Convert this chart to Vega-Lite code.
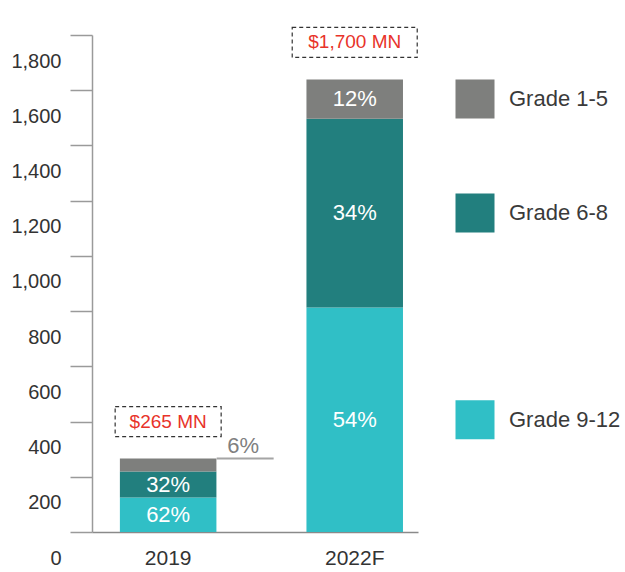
{
  "$schema": "https://vega.github.io/schema/vega-lite/v6.json",
  "padding": {"left": 10, "top": 25, "right": 0, "bottom": 5},
  "background": "white",
  "config": {"view": {"stroke": null}, "font": "Liberation Sans"},
  "datasets": {
    "segments": [
      {"year": "2019", "grade": "Grade 9-12", "value": 125, "share": "62%"},
      {"year": "2019", "grade": "Grade 6-8", "value": 94, "share": "32%"},
      {"year": "2019", "grade": "Grade 1-5", "value": 47, "share": "6%"},
      {"year": "2022F", "grade": "Grade 9-12", "value": 813, "share": "54%"},
      {"year": "2022F", "grade": "Grade 6-8", "value": 684, "share": "34%"},
      {"year": "2022F", "grade": "Grade 1-5", "value": 142, "share": "12%"}
    ],
    "totals": [
      {"year": "2019", "label": "$265 MN"},
      {"year": "2022F", "label": "$1,700 MN"}
    ]
  },
  "spacing": 0,
  "hconcat": [
    {
      "width": 326,
      "height": 497,
      "data": {"name": "segments"},
      "transform": [
        {"stack": "value", "groupby": ["year"], "sort": [{"field": "grade", "order": "descending"}], "as": ["v0", "v1"]},
        {"calculate": "(datum.v0 + datum.v1) / 2", "as": "mid"}
      ],
      "encoding": {
        "x": {
          "field": "year", "type": "nominal", "title": null,
          "scale": {"domain": ["2019", "2022F"], "paddingInner": 0.4826, "paddingOuter": 0.115, "align": 0.65},
          "axis": {"domainColor": "#8a8a8a", "domainWidth": 1.5, "ticks": false, "labelFontSize": 21, "labelColor": "#333333", "labelPadding": 15, "labelAngle": 0}
        }
      },
      "layer": [
        {
          "mark": {"type": "bar"},
          "encoding": {
            "y": {
              "field": "v0", "type": "quantitative", "title": null,
              "scale": {"domain": [0, 1800], "nice": false},
              "axis": {"values": [0, 200, 400, 600, 800, 1000, 1200, 1400, 1600, 1800], "format": ",d", "labelFontSize": 20, "labelColor": "#333333", "labelPadding": 9, "tickSize": 22, "tickColor": "#9a9a9a", "tickWidth": 1.5, "domainColor": "#9a9a9a", "domainWidth": 1.5, "grid": false, "labelOffset": 26, "labelFlush": false, "labelOverlap": false, "labelBound": false}
            },
            "y2": {"field": "v1"},
            "color": {
              "field": "grade", "type": "nominal", "legend": null,
              "scale": {"domain": ["Grade 1-5", "Grade 6-8", "Grade 9-12"], "range": ["#7e7f7d", "#227f7e", "#30bfc6"]}
            }
          }
        },
        {
          "transform": [{"filter": "!(datum.year == '2019' && datum.grade == 'Grade 1-5')"}],
          "mark": {"type": "text", "color": "white", "fontSize": 22, "baseline": "middle"},
          "encoding": {
            "y": {"field": "mid", "type": "quantitative"},
            "text": {"field": "share"}
          }
        },
        {
          "transform": [{"filter": "datum.year == '2019' && datum.grade == 'Grade 1-5'"}],
          "mark": {"type": "tick", "orient": "horizontal", "size": 57, "thickness": 2, "xOffset": 77, "color": "#7f7f7f"},
          "encoding": {
            "y": {"field": "v1", "type": "quantitative"}
          }
        },
        {
          "transform": [{"filter": "datum.year == '2019' && datum.grade == 'Grade 1-5'"}],
          "mark": {"type": "text", "dx": 75, "dy": -13, "fontSize": 22, "color": "#808080", "baseline": "middle"},
          "encoding": {
            "y": {"field": "v1", "type": "quantitative"},
            "text": {"field": "share"}
          }
        },
        {
          "transform": [
            {"filter": "datum.grade == 'Grade 1-5'"},
            {"lookup": "year", "from": {"data": {"name": "totals"}, "key": "year", "fields": ["label"]}}
          ],
          "mark": {"type": "text", "dy": -37, "fontSize": 19, "color": "#e8332a", "baseline": "middle"},
          "encoding": {
            "y": {"field": "v1", "type": "quantitative"},
            "text": {"field": "label"}
          }
        },
        {
          "transform": [{"filter": "datum.grade == 'Grade 1-5'"}],
          "mark": {"type": "point", "filled": false, "size": 4, "stroke": "#333333", "strokeWidth": 1.2, "strokeDash": [4, 3], "opacity": 1},
          "encoding": {
            "y": {"field": "v1", "type": "quantitative"},
            "shape": {
              "field": "year", "type": "nominal", "legend": null,
              "scale": {"domain": ["2019", "2022F"], "range": ["M-53,-52H53V-22H-53Z", "M-62.5,-52H62.5V-22H-62.5Z"]}
            }
          }
        }
      ]
    },
    {
      "width": 110,
      "height": 497,
      "data": {"name": "segments"},
      "transform": [
        {"stack": "value", "groupby": ["year"], "sort": [{"field": "grade", "order": "descending"}], "as": ["v0", "v1"]},
        {"calculate": "(datum.v0 + datum.v1) / 2", "as": "mid"},
        {"filter": "datum.year == '2022F'"}
      ],
      "encoding": {
        "y": {"field": "mid", "type": "quantitative", "axis": null, "scale": {"domain": [0, 1800], "nice": false}}
      },
      "layer": [
        {
          "mark": {"type": "point", "shape": "square", "filled": true, "size": 1521, "opacity": 1, "strokeWidth": 0},
          "encoding": {
            "color": {
              "field": "grade", "type": "nominal", "legend": null,
              "scale": {"domain": ["Grade 1-5", "Grade 6-8", "Grade 9-12"], "range": ["#7e7f7d", "#227f7e", "#30bfc6"]}
            }
          }
        },
        {
          "mark": {"type": "text", "align": "left", "baseline": "middle", "dx": 34, "fontSize": 22, "color": "#3a3a3a"},
          "encoding": {"text": {"field": "grade"}}
        }
      ]
    }
  ]
}
